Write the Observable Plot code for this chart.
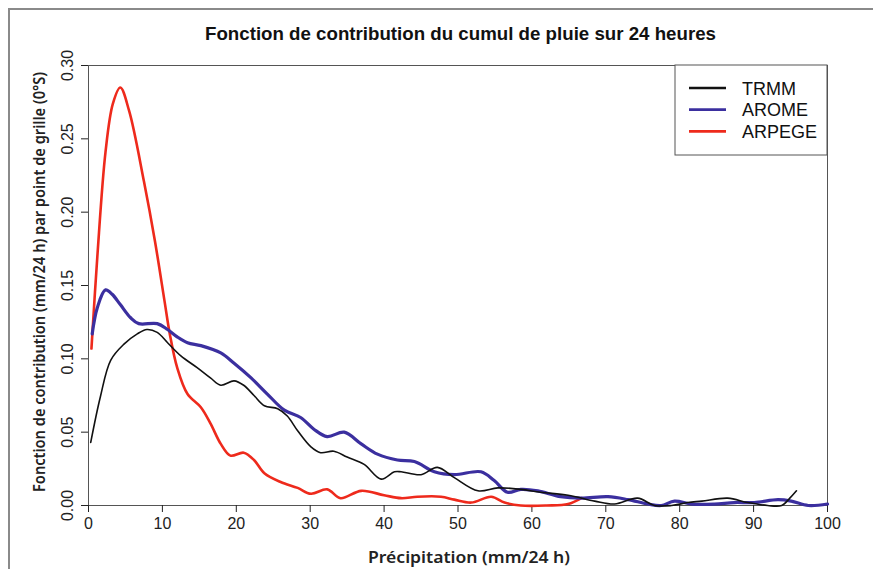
<!DOCTYPE html>
<html><head><meta charset="utf-8">
<script src="https://cdn.jsdelivr.net/npm/d3@7"></script>
<script src="https://cdn.jsdelivr.net/npm/@observablehq/plot@0.6"></script>
<style>
html,body{margin:0;padding:0;background:#fff;overflow:hidden}
#wrap{position:relative;width:873px;height:569px}
#frame{position:absolute;left:8px;top:8px;width:900px;height:600px;border-left:2px solid #8a8a8a;border-top:2px solid #8a8a8a;pointer-events:none}
</style></head><body><div id="wrap"><div id="frame"></div></div>
<script>
const seriesNames = ["TRMM", "AROME", "ARPEGE"];
const seriesColors = ["#111111", "#3b2f9f", "#ee2a1c"];

const trmmX = [0.3,1.6,3.0,4.8,6.6,7.9,9.3,10.7,12.5,14.7,16.5,17.9,19.7,21.0,22.4,23.8,25.6,26.9,28.3,30.1,31.4,33.2,35.0,37.3,39.6,41.4,42.3,45.0,47.2,49.5,52.7,55.4,58.5,61.2,64.9,68.5,71.2,74.3,76.6,78.9,81.1,83.0,86.5,89.2,91.9,93.8,94.9,95.8];
const trmmY = [0.043,0.074,0.099,0.110,0.117,0.120,0.118,0.111,0.102,0.094,0.087,0.082,0.085,0.082,0.075,0.068,0.066,0.061,0.051,0.040,0.036,0.037,0.033,0.028,0.018,0.023,0.023,0.021,0.026,0.019,0.010,0.012,0.011,0.009,0.007,0.003,0.001,0.005,0.000,0.000,0.002,0.003,0.005,0.002,0.000,0.000,0.005,0.010];

const aromeX = [0.5,1.2,2.3,3.2,4.3,5.7,6.8,9.3,10.7,12.0,13.4,15.2,17.9,19.7,22.0,24.2,26.5,28.7,30.5,32.3,34.6,36.9,39.1,41.8,44.1,46.8,49.5,53.1,54.9,56.7,58.5,60.8,63.9,66.7,70.3,73.0,75.7,77.5,79.3,81.6,84.7,87.4,90.1,93.3,95.1,97.4,100];
const aromeY = [0.117,0.135,0.147,0.144,0.137,0.128,0.124,0.124,0.120,0.115,0.111,0.109,0.104,0.097,0.087,0.076,0.065,0.060,0.052,0.047,0.050,0.042,0.035,0.031,0.030,0.023,0.021,0.023,0.017,0.009,0.011,0.010,0.006,0.005,0.006,0.004,0.001,0.000,0.003,0.001,0.001,0.002,0.002,0.004,0.003,0.000,0.001];

const arpegeX = [0.4,1.2,2.3,3.3,4.3,5.5,7.5,9.0,10.3,11.0,12.0,13.4,15.2,16.5,17.9,19.2,21.0,22.4,23.8,26.0,28.3,30.1,32.3,34.1,36.9,40.0,42.3,44.5,47.7,49.5,51.8,54.5,56.3,58.5,62.0,64.9,66.7];
const arpegeY = [0.107,0.170,0.241,0.274,0.285,0.269,0.221,0.180,0.139,0.117,0.094,0.076,0.067,0.056,0.042,0.034,0.036,0.031,0.022,0.016,0.012,0.008,0.011,0.005,0.010,0.007,0.005,0.006,0.006,0.004,0.002,0.006,0.002,0.000,0.000,0.001,0.005];

const xTicks = [0,10,20,30,40,50,60,70,80,90,100];
const yTicks = [0,0.05,0.10,0.15,0.20,0.25,0.30];

const rows = (name, xs, ys) => xs.map((x, i) => ({series: name, x, y: ys[i]}));
const trmm = rows("TRMM", trmmX, trmmY);
const arome = rows("AROME", aromeX, aromeY);
const arpege = rows("ARPEGE", arpegeX, arpegeY);

const plot = Plot.plot({
  width: 873, height: 569,
  marginTop: 65, marginBottom: 64, marginLeft: 88, marginRight: 46,
  style: {background: "transparent", fontFamily: "'Liberation Sans', Arial, sans-serif", fontSize: "16px", color: "#222", overflow: "visible"},
  x: {domain: [0, 100]},
  y: {domain: [0, 0.3]},
  marks: [
    Plot.frame({stroke: "#555"}),
    Plot.axisX({ticks: xTicks, tickSize: 7, tickPadding: 5, label: null, tickFormat: d => String(d)}),
    Plot.axisY({ticks: yTicks, tickSize: 7, tickPadding: 9, tickRotate: -90, textAnchor: "middle", lineAnchor: "bottom", label: null, tickFormat: d => d.toFixed(2)}),
    Plot.line(arpege, {x: "x", y: "y", stroke: seriesColors[2], strokeWidth: 2.6, curve: "catmull-rom"}),
    Plot.line(arome, {x: "x", y: "y", stroke: seriesColors[1], strokeWidth: 3.2, curve: "catmull-rom"}),
    Plot.line(trmm, {x: "x", y: "y", stroke: seriesColors[0], strokeWidth: 1.6, curve: "catmull-rom"})
  ]
});

const svg = d3.select(plot);
svg.append("text").attr("x", 460.5).attr("y", 40).attr("text-anchor", "middle")
  .attr("font-weight", "bold").attr("font-size", 18).attr("fill", "#111")
  .attr("textLength", 511).attr("lengthAdjust", "spacingAndGlyphs")
  .text("Fonction de contribution du cumul de pluie sur 24 heures");
svg.append("text").attr("transform", "translate(45,282) rotate(-90)").attr("text-anchor", "middle")
  .attr("font-family", "'Noto Sans', sans-serif").attr("font-weight", 600).attr("font-size", 16).attr("fill", "#222")
  .attr("textLength", 420).attr("lengthAdjust", "spacingAndGlyphs")
  .text("Fonction de contribution (mm/24 h) par point de grille (0°S)");
svg.append("text").attr("x", 469).attr("y", 563).attr("text-anchor", "middle")
  .attr("font-family", "'Noto Sans', sans-serif").attr("font-weight", 600).attr("font-size", 16).attr("fill", "#222")
  .attr("textLength", 202).attr("lengthAdjust", "spacingAndGlyphs")
  .text("Précipitation (mm/24 h)");

const lg = svg.append("g");
lg.append("rect").attr("x", 675).attr("y", 65).attr("width", 152).attr("height", 90)
  .attr("fill", "#fff").attr("stroke", "#555");
seriesNames.forEach((name, i) => {
  const cy = 88 + i * 21.7;
  lg.append("line").attr("x1", 689).attr("x2", 726).attr("y1", cy).attr("y2", cy)
    .attr("stroke", seriesColors[i]).attr("stroke-width", i === 0 ? 2.4 : 2.8);
  lg.append("text").attr("x", 742).attr("y", cy + 6.5).attr("text-anchor", "start")
    .attr("font-size", 18).attr("fill", "#111").text(name);
});

document.getElementById("wrap").appendChild(plot);
</script>
</body></html>
